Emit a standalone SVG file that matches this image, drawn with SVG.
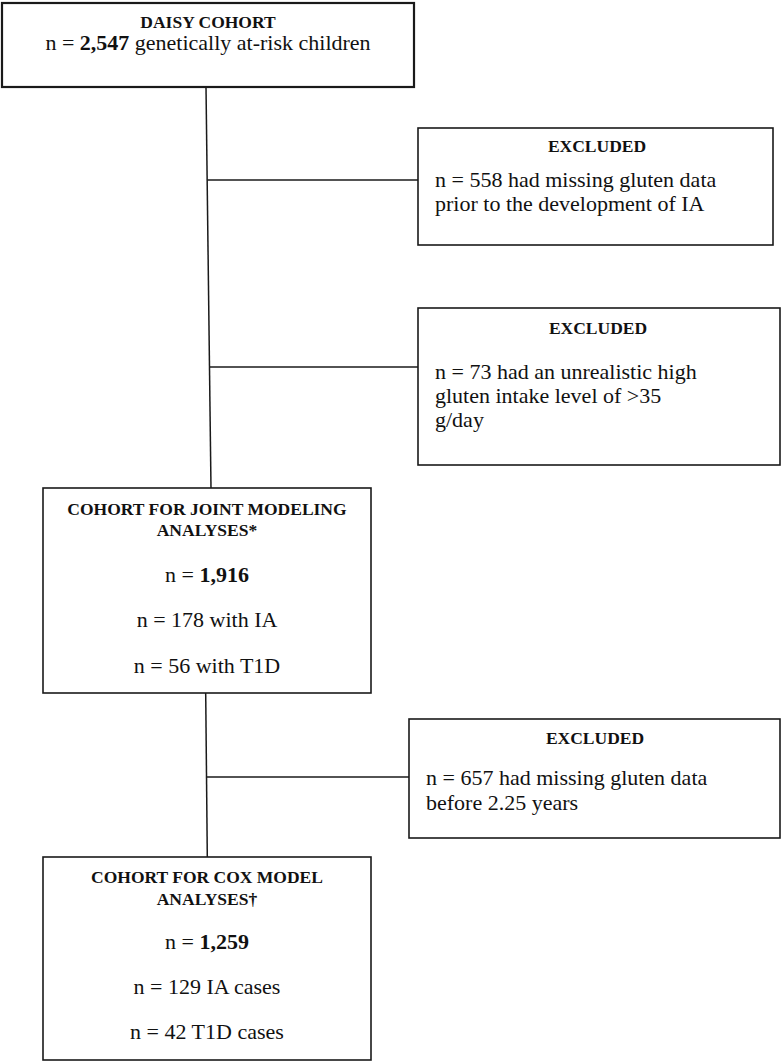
<svg xmlns="http://www.w3.org/2000/svg" width="782" height="1062" viewBox="0 0 782 1062">
<style>
  .box { fill: #ffffff; stroke: #1a1a1a; stroke-width: 1.6; }
  .thick { stroke-width: 2.2; }
  .title { font-family: "Liberation Serif", "Times New Roman", serif; font-weight: bold; font-size: 17.5px; fill: #111; text-anchor: middle; }
  .body { font-family: "Liberation Serif", "Times New Roman", serif; font-size: 22px; fill: #111; }
  .mid { text-anchor: middle; }
  .conn { stroke: #1a1a1a; stroke-width: 1.5; fill: none; }
</style>
<rect width="782" height="1062" fill="#ffffff"/>
<g id="connectors">
  <line class="conn" x1="206" y1="87" x2="211" y2="488"/>
  <line class="conn" x1="207.2" y1="180" x2="418" y2="180"/>
  <line class="conn" x1="209.8" y1="367" x2="418" y2="367"/>
  <line class="conn" x1="205.7" y1="693" x2="207.3" y2="857"/>
  <line class="conn" x1="206.8" y1="777" x2="409" y2="777"/>
</g>
<g id="daisy-cohort">
  <rect class="box thick" x="2" y="3" width="412" height="84"/>
  <text class="title" x="208" y="28">DAISY COHORT</text>
  <text class="body mid" x="208" y="50">n = <tspan font-weight="bold">2,547</tspan> genetically at-risk children</text>
</g>
<g id="excluded-1">
  <rect class="box" x="418" y="128" width="355" height="117"/>
  <text class="title" x="597" y="152">EXCLUDED</text>
  <text class="body" x="435" y="187">n = 558 had missing gluten data</text>
  <text class="body" x="435" y="211">prior to the development of IA</text>
</g>
<g id="excluded-2">
  <rect class="box" x="418" y="308" width="362" height="157"/>
  <text class="title" x="598" y="334">EXCLUDED</text>
  <text class="body" x="435" y="379">n = 73 had an unrealistic high</text>
  <text class="body" x="435" y="403">gluten intake level of &gt;35</text>
  <text class="body" x="435" y="427">g/day</text>
</g>
<g id="joint-modeling-cohort">
  <rect class="box" x="43" y="488" width="328" height="205"/>
  <text class="title" x="207" y="515">COHORT FOR JOINT MODELING</text>
  <text class="title" x="207" y="536">ANALYSES*</text>
  <text class="body mid" x="207" y="582">n = <tspan font-weight="bold">1,916</tspan></text>
  <text class="body mid" x="207" y="627">n = 178 with IA</text>
  <text class="body mid" x="207" y="673">n = 56 with T1D</text>
</g>
<g id="excluded-3">
  <rect class="box" x="409" y="719" width="371" height="119"/>
  <text class="title" x="595" y="744">EXCLUDED</text>
  <text class="body" x="426" y="785">n = 657 had missing gluten data</text>
  <text class="body" x="426" y="810">before 2.25 years</text>
</g>
<g id="cox-model-cohort">
  <rect class="box" x="43" y="857" width="328" height="203"/>
  <text class="title" x="207" y="883">COHORT FOR COX MODEL</text>
  <text class="title" x="207" y="905">ANALYSES†</text>
  <text class="body mid" x="207" y="949">n = <tspan font-weight="bold">1,259</tspan></text>
  <text class="body mid" x="207" y="994">n = 129 IA cases</text>
  <text class="body mid" x="207" y="1039">n = 42 T1D cases</text>
</g>
</svg>
